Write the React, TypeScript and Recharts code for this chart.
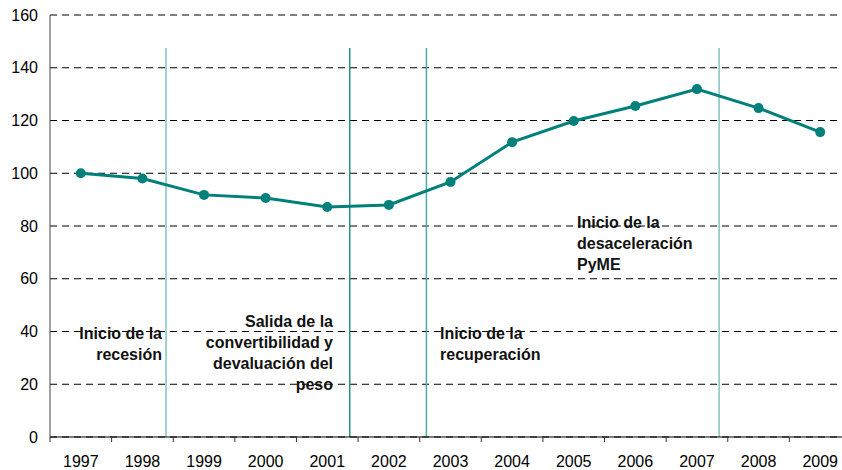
import React from "react";
import {
  LineChart,
  Line,
  XAxis,
  YAxis,
  CartesianGrid,
  ReferenceLine,
} from "recharts";

const years = ["1997", "1998", "1999", "2000", "2001", "2002", "2003", "2004", "2005", "2006", "2007", "2008", "2009"];
const index = [100, 98, 91.8, 90.6, 87.2, 88, 96.7, 111.8, 119.8, 125.5, 131.9, 124.7, 115.6];
const yTicks = [0, 20, 40, 60, 80, 100, 120, 140, 160];

// event markers, in band units along the year axis
const eventPos = [1.883, 4.865, 6.109, 10.86];
const eventColor = ["#7fc4c2", "#2a8f8a", "#4fa9a5", "#7fc4c2"];
const eventTop = 147.5;

const data = years.map((y, i) => ({ year: y, pos: i + 0.5, value: index[i] }));

const teal = "#00807a";
const font = "'Liberation Sans', Arial, sans-serif";

const YearTick = (props: any) => {
  const { x, y, payload, index: i } = props;
  const off = payload.offset || 0;
  return (
    <g>
      <line x1={x - off} x2={x - off} y1={y} y2={y + 5} stroke="#333" />
      {i === years.length - 1 && (
        <line x1={x + off} x2={x + off} y1={y} y2={y + 5} stroke="#333" />
      )}
      <text x={x} y={y + 30} textAnchor="middle" fontSize={16} fill="#000" fontFamily={font}>
        {payload.value}
      </text>
    </g>
  );
};

const note: React.CSSProperties = {
  position: "absolute",
  fontFamily: font,
  fontWeight: "bold",
  fontSize: 16,
  lineHeight: "21px",
  color: "#111",
  whiteSpace: "nowrap",
};

const App = () => {
  return (
    <div style={{ position: "absolute", left: 0, top: 0, width: 842, height: 470, background: "#fff", overflow: "hidden" }}>
      <LineChart
        width={842}
        height={470}
        data={data}
        margin={{ top: 15, right: -9, bottom: 0, left: 0 }}
      >
        <CartesianGrid vertical={false} stroke="#000" strokeDasharray="7 5" />
        <XAxis
          dataKey="year"
          scale="band"
          height={33}
          axisLine={{ stroke: "#000" }}
          tickLine={false}
          tickSize={0}
          tickMargin={0}
          tick={<YearTick />}
          interval={0}
        />
        <XAxis
          xAxisId="ref"
          dataKey="pos"
          type="number"
          domain={[0, 13]}
          hide
          allowDataOverflow
        />
        <YAxis
          width={50}
          domain={[0, 160]}
          ticks={yTicks}
          interval={0}
          axisLine={{ stroke: "#444" }}
          tickLine={false}
          tickSize={6}
          tickMargin={6}
          tick={{ fontSize: 16, fill: "#000", fontFamily: font }}
        />
        {eventPos.map((p, i) => (
          <ReferenceLine
            key={i}
            xAxisId="ref"
            segment={[{ x: p, y: 0 }, { x: p, y: eventTop }]}
            stroke={eventColor[i]}
            strokeWidth={1.5}
          />
        ))}
        <Line
          type="linear"
          dataKey="value"
          stroke={teal}
          strokeWidth={3}
          dot={{ r: 5, fill: teal, stroke: teal, strokeWidth: 0 }}
          isAnimationActive={false}
        />
      </LineChart>
      <div style={{ ...note, right: 842 - 162, top: 323, textAlign: "right" }}>
        Inicio de la<br />recesión
      </div>
      <div style={{ ...note, right: 842 - 333, top: 311, textAlign: "right" }}>
        Salida de la<br />convertibilidad y<br />devaluación del<br />peso
      </div>
      <div style={{ ...note, left: 440, top: 323 }}>
        Inicio de la<br />recuperación
      </div>
      <div style={{ ...note, left: 577, top: 212 }}>
        Inicio de la<br />desaceleración<br />PyME
      </div>
    </div>
  );
};

export default App;
